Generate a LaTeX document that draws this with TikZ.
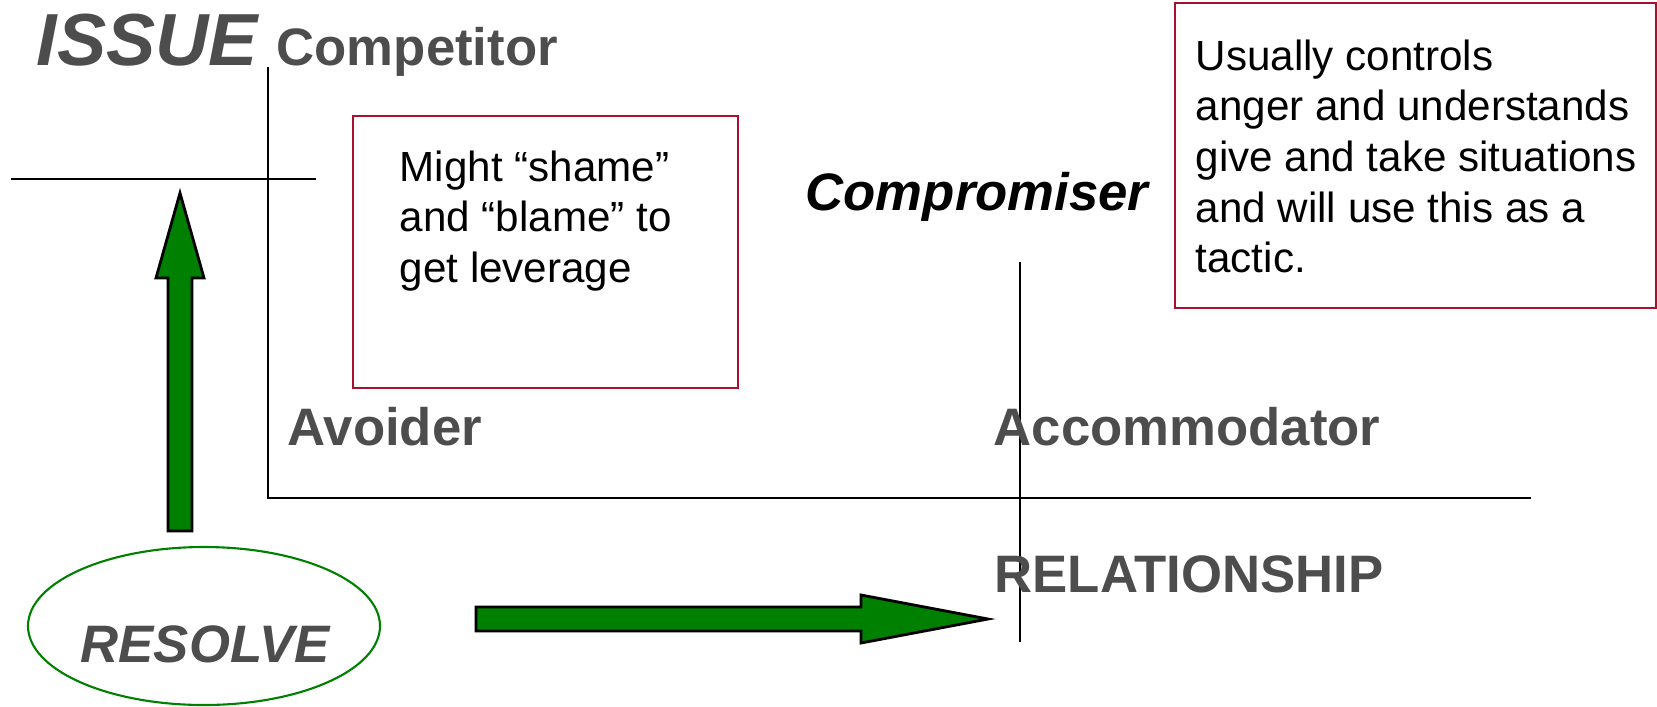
\documentclass[tikz,border=0pt]{standalone}
\usepackage{fontspec}
\setmainfont{Liberation Sans}
\usepackage{xcolor}
\usetikzlibrary{positioning,shapes.geometric}
\definecolor{labelgray}{RGB}{77,77,77}
\definecolor{boxred}{RGB}{168,16,48}
\definecolor{arrowgreen}{RGB}{0,128,0}

\begin{document}
\begin{tikzpicture}[
  axis/.style={line width=0.6pt, black},
  rolelabel/.style={anchor=base west, inner sep=0pt, text=labelgray, font=\fontsize{15}{18}\selectfont\bfseries},
  notebox/.style={rectangle, draw=boxred, line width=0.6pt, anchor=north west, inner sep=0pt},
  notetext/.style={anchor=north west, inner sep=0pt, align=left, font=\fontsize{12}{14.4}\selectfont},
  bigarrow/.style={draw=black, line width=0.8pt, fill=arrowgreen}
]
\useasboundingbox (0,0) rectangle (16.57,7.06);

% axes
\draw[axis] (2.68,6.39) -- (2.68,2.08) -- (15.31,2.08);
\draw[axis] (0.11,5.27) -- (3.16,5.27);
\draw[axis] (10.20,4.44) -- (10.20,0.64);

% labels
\node[rolelabel, font=\fontsize{21}{25}\selectfont\bfseries\itshape] (issue) at (0.36,6.41) {ISSUE};
\node[rolelabel] (competitor) at (2.76,6.41) {Competitor};
\node[rolelabel, text=black, font=\fontsize{15}{18}\selectfont\bfseries\itshape] (compromiser) at (8.05,4.96) {Compromiser};
\node[rolelabel] (avoider) at (2.87,2.61) {Avoider};
\node[rolelabel] (accommodator) at (9.93,2.61) {Accommodator};
\node[rolelabel] (relationship) at (9.94,1.14) {RELATIONSHIP};

% notes
\node[notebox, minimum width=3.85cm, minimum height=2.72cm] (shamebox) at (3.52,5.91) {};
\node[notetext, below right=0.35cm and 0.47cm of shamebox.north west] (shametext) {Might “shame”\\and “blame” to\\get leverage};
\node[notebox, minimum width=4.81cm, minimum height=3.05cm] (tacticbox) at (11.74,7.04) {};
\node[notetext, below right=0.37cm and 0.21cm of tacticbox.north west] (tactictext) {Usually controls\\anger and understands\\give and take situations\\and will use this as a\\tactic.};

% resolve
\node[ellipse, draw=arrowgreen, line width=0.6pt, minimum width=3.52cm, minimum height=1.58cm, inner sep=0pt] (resolve) at (2.04,0.80) {};
\node[rolelabel, font=\fontsize{15}{18}\selectfont\bfseries\itshape] (resolvetext) at (0.80,0.44) {RESOLVE};

% arrows
\draw[bigarrow] (1.68,1.75) -- (1.68,4.28) -- (1.56,4.28) -- (1.80,5.13) -- (2.04,4.28) -- (1.92,4.28) -- (1.92,1.75) -- cycle;
\draw[bigarrow] (4.76,0.75) -- (8.61,0.75) -- (8.61,0.63) -- (9.88,0.87) -- (8.61,1.11) -- (8.61,0.99) -- (4.76,0.99) -- cycle;
\end{tikzpicture}
\end{document}
